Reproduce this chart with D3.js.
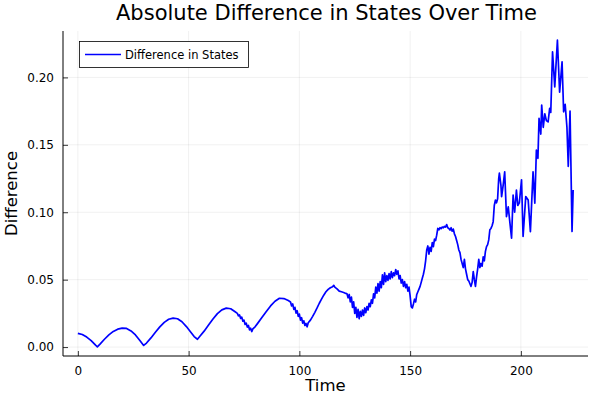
<!DOCTYPE html>
<html>
<head>
<meta charset="utf-8">
<script src="https://cdn.jsdelivr.net/npm/d3@7"></script>
<style>
  html, body { margin: 0; padding: 0; background: #fff; }
  svg { display: block; font-family: "DejaVu Sans", sans-serif; }
</style>
</head>
<body>
<svg id="chart" width="600" height="400"></svg>
<script>
const chartTitle = "Absolute Difference in States Over Time";
const xLabel = "Time";
const yLabel = "Difference";
const seriesName = "Difference in States";
const xTicks = [0, 50, 100, 150, 200];
const yTicks = [0.00, 0.05, 0.10, 0.15, 0.20];

const times = [
  0, 2, 4, 6, 8, 8.8, 10, 12, 14, 16, 18, 20, 22, 24, 26, 28, 29.7,
  31, 33, 35, 37, 39, 41, 43, 45, 47, 49, 51, 52.5, 54,
  55, 57, 59, 61, 63, 65, 67, 69, 71,
  72, 72.5, 73, 73.5, 74, 74.5, 75, 75.5, 76, 76.5, 77, 77.5, 78, 78.5, 79, 80,
  81, 83, 85, 87, 89, 91, 93, 95,
  96, 96.5, 97, 97.5, 98, 98.5, 99, 99.5, 100, 100.5, 101, 101.5, 102, 102.5, 103, 103.5, 104,
  105, 106, 107, 108, 109, 110, 111, 112, 113, 114, 115, 115.5, 116, 117, 118, 119, 120, 121,
  121.5, 122, 122.5, 123, 123.5, 124, 124.5, 125, 125.5, 126, 126.5, 127, 127.5, 128, 128.5, 129, 129.5,
  130, 130.5, 131, 131.5, 132, 132.5, 133, 133.5, 134, 134.5, 135, 135.5, 136, 136.5, 137, 137.5, 138,
  138.5, 139, 139.5, 140, 140.5, 141, 141.5, 142, 142.5, 143, 143.5, 144, 144.5, 145, 145.5, 146, 146.5,
  147, 147.5, 148, 148.5, 149, 149.5, 150, 150.5, 151, 151.5, 152, 152.5, 153, 153.5, 154, 154.5, 155,
  155.5, 156, 156.5, 157, 157.5, 158, 158.5, 159, 159.5, 160, 160.5, 161, 161.5, 162, 162.5, 163, 163.5,
  164, 164.5, 165, 165.5, 166, 166.5, 167, 167.5, 168, 168.5, 169, 169.5, 170, 170.5, 171, 171.5, 172,
  172.5, 173, 173.5, 174, 174.5, 175, 175.5, 176, 176.5, 177, 177.5, 178, 178.5, 179, 179.5, 180, 180.5,
  181, 181.5, 182, 182.5, 183, 183.5, 184, 184.5, 185, 185.5, 186, 186.5, 187, 187.5, 188, 188.5, 189,
  189.5, 190, 190.3, 191, 191.3, 192, 192.7, 193.5, 194.3, 195, 195.8, 196.5, 197.2, 198, 198.6, 199.3,
  200.3, 201, 202.2, 203.3, 204.3, 205.5, 206.3, 207, 207.7, 208.2, 209, 209.4, 210.1, 210.8, 211.5,
  212.3, 213, 213.5, 214.3, 215.3, 216.5, 217.5, 218.6, 219.3, 220, 220.8, 221.4, 222.2, 223.1, 223.6
];
const diffs = [
  0.0102, 0.0093, 0.0074, 0.0048, 0.0014, 0.0002, 0.0022, 0.0058, 0.0090, 0.0116, 0.0133, 0.0141, 0.0138, 0.0120, 0.0090, 0.0048, 0.0012,
  0.0030, 0.0068, 0.0110, 0.0150, 0.0183, 0.0206, 0.0215, 0.0210, 0.0188, 0.0152, 0.0110, 0.0078, 0.0058,
  0.0078, 0.0118, 0.0163, 0.0208, 0.0248, 0.0276, 0.0289, 0.0284, 0.0262,
  0.0250, 0.0232, 0.0238, 0.0212, 0.0222, 0.0192, 0.0200, 0.0168, 0.0178, 0.0148, 0.0160, 0.0128, 0.0140, 0.0115, 0.0135, 0.0150,
  0.0172, 0.0218, 0.0262, 0.0305, 0.0340, 0.0362, 0.0360, 0.0345,
  0.0335, 0.0305, 0.0320, 0.0280, 0.0295, 0.0252, 0.0270, 0.0228, 0.0245, 0.0200, 0.0218, 0.0178, 0.0195, 0.0160, 0.0175, 0.0150, 0.0180,
  0.0200, 0.0228, 0.0258, 0.0290, 0.0325, 0.0355, 0.0385, 0.0410, 0.0428, 0.0440, 0.0448, 0.0458, 0.0445, 0.0432, 0.0415, 0.0410, 0.0405, 0.0398,
  0.0395, 0.0365, 0.0390, 0.0335, 0.0370, 0.0295, 0.0335, 0.0250, 0.0295, 0.0220, 0.0280, 0.0210, 0.0265, 0.0228, 0.0275, 0.0235, 0.0290,
  0.0255, 0.0300, 0.0275, 0.0325, 0.0300, 0.0350, 0.0325, 0.0395, 0.0365, 0.0445, 0.0400, 0.0470, 0.0415, 0.0485, 0.0440, 0.0535, 0.0465,
  0.0550, 0.0485, 0.0530, 0.0495, 0.0545, 0.0505, 0.0560, 0.0515, 0.0550, 0.0530, 0.0575, 0.0540, 0.0565, 0.0505, 0.0530, 0.0475, 0.0500,
  0.0450, 0.0485, 0.0440, 0.0465, 0.0415, 0.0445, 0.0380, 0.0300, 0.0290, 0.0320, 0.0355, 0.0335, 0.0390, 0.0410, 0.0430, 0.0450, 0.0480,
  0.0510, 0.0540, 0.0580, 0.0640, 0.0720, 0.0750, 0.0690, 0.0740, 0.0710, 0.0775, 0.0745, 0.0800, 0.0790, 0.0830, 0.0880, 0.0870, 0.0885,
  0.0878, 0.0890, 0.0885, 0.0895, 0.0890, 0.0908, 0.0885, 0.0880, 0.0868, 0.0885, 0.0860, 0.0875, 0.0840, 0.0820, 0.0790, 0.0760, 0.0720,
  0.0700, 0.0650, 0.0620, 0.0590, 0.0650, 0.0580, 0.0540, 0.0500, 0.0490, 0.0470, 0.0450, 0.0480, 0.0560, 0.0500, 0.0450, 0.0520, 0.0580,
  0.0650, 0.0590, 0.0620, 0.0600, 0.0670, 0.0640, 0.0710, 0.0745, 0.0760, 0.0795, 0.0870, 0.0880, 0.0900, 0.0930, 0.1050, 0.1090, 0.1070,
  0.1100, 0.1250, 0.1290, 0.1200, 0.1116, 0.1200, 0.1300, 0.0967, 0.1040, 0.0930, 0.0807, 0.1128, 0.1000, 0.1165, 0.1050, 0.1070,
  0.1240, 0.0820, 0.1116, 0.1090, 0.0856, 0.1300, 0.1067, 0.1460, 0.1400, 0.1696, 0.1580, 0.1795, 0.1630, 0.1730, 0.1680,
  0.1670, 0.1770, 0.1740, 0.2190, 0.1930, 0.2276, 0.1890, 0.2116, 0.1745, 0.1800, 0.1630, 0.1340, 0.1750, 0.0857, 0.1165
];

const W = 600, H = 400;
const plot = { left: 63, right: 588, top: 31, bottom: 356 };
const svg = d3.select("#chart");
svg.append("rect").attr("width", W).attr("height", H).attr("fill", "#fff");

const data = times.map((t, i) => ({ t, v: diffs[i] }));
const [xmin, xmax] = d3.extent(times);
const [ymin, ymax] = d3.extent(diffs);
const xpad = (xmax - xmin) * 0.03, ypad = (ymax - ymin) * 0.03;

const x = d3.scaleLinear().domain([xmin - xpad, xmax + xpad]).range([plot.left, plot.right]);
const y = d3.scaleLinear().domain([ymin - ypad, ymax + ypad]).range([plot.bottom, plot.top]);

// grid
const grid = svg.append("g").attr("stroke", "#000").attr("stroke-opacity", 0.1).attr("stroke-width", 0.6);
grid.selectAll(".gx").data(xTicks).join("line")
  .attr("x1", d => x(d)).attr("x2", d => x(d))
  .attr("y1", plot.top).attr("y2", plot.bottom);
grid.selectAll(".gy").data(yTicks).join("line")
  .attr("x1", plot.left).attr("x2", plot.right)
  .attr("y1", d => y(d)).attr("y2", d => y(d));

// axes
const xAxis = d3.axisBottom(x).tickValues(xTicks).tickSizeInner(-5).tickSizeOuter(0).tickPadding(10).tickFormat(d3.format("d"));
const yAxis = d3.axisLeft(y).tickValues(yTicks).tickSizeInner(-5).tickSizeOuter(0).tickPadding(9).tickFormat(d3.format(".2f"));

const gx = svg.append("g").attr("transform", `translate(0,${plot.bottom})`).call(xAxis);
const gy = svg.append("g").attr("transform", `translate(${plot.left},0)`).call(yAxis);
[gx, gy].forEach(g => {
  g.select(".domain").remove();
  g.selectAll(".tick line").attr("stroke", "#000").attr("stroke-width", 0.8);
  g.selectAll(".tick text").attr("fill", "#000").style("font-size", "12px").style("font-family", "DejaVu Sans, sans-serif");
});
svg.append("line").attr("x1", plot.left).attr("x2", plot.right).attr("y1", plot.bottom).attr("y2", plot.bottom)
  .attr("stroke", "#000").attr("stroke-width", 1);
svg.append("line").attr("x1", plot.left).attr("x2", plot.left).attr("y1", plot.top).attr("y2", plot.bottom)
  .attr("stroke", "#000").attr("stroke-width", 1);

// line
const line = d3.line().x(d => x(d.t)).y(d => y(d.v)).curve(d3.curveLinear);
svg.append("path").datum(data).attr("d", line)
  .attr("fill", "none").attr("stroke", "#0000ff").attr("stroke-width", 1.7).attr("stroke-linejoin", "round");

// title & labels
svg.append("text").attr("x", (plot.left + plot.right) / 2 + 1).attr("y", 20)
  .attr("text-anchor", "middle").style("font-size", "21px").text(chartTitle);
svg.append("text").attr("x", (plot.left + plot.right) / 2).attr("y", 391)
  .attr("text-anchor", "middle").style("font-size", "16.5px").text(xLabel);
svg.append("text").attr("transform", `translate(17,${(plot.top + plot.bottom) / 2}) rotate(-90)`)
  .attr("text-anchor", "middle").style("font-size", "16.5px").text(yLabel);

// legend
const lg = svg.append("g");
lg.append("rect").attr("x", 79.5).attr("y", 41.5).attr("width", 169).attr("height", 26)
  .attr("fill", "#fff").attr("stroke", "#000").attr("stroke-width", 0.8);
lg.append("line").attr("x1", 85).attr("x2", 121).attr("y1", 54.5).attr("y2", 54.5)
  .attr("stroke", "#0000ff").attr("stroke-width", 1.7);
lg.append("text").attr("x", 125).attr("y", 58.5).style("font-size", "11.5px").text(seriesName);
</script>
</body>
</html>
